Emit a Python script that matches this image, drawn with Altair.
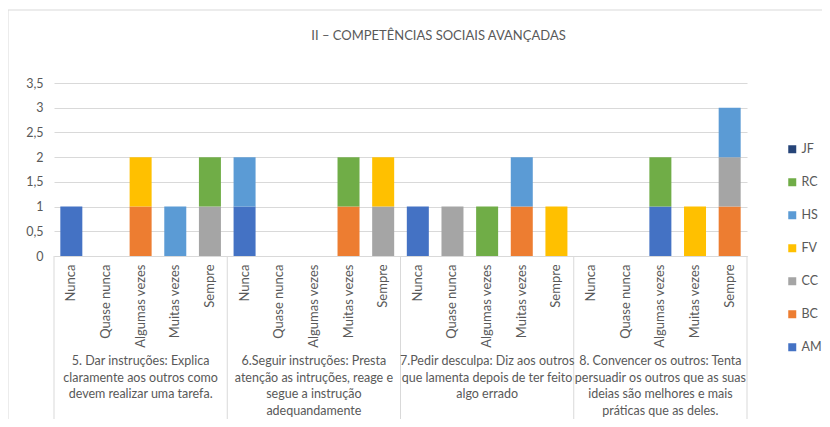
import altair as alt
import pandas as pd

groups = ["5", "6", "7", "8"]
group_labels = [
    "5. Dar instruções: Explica\nclaramente aos outros como\ndevem realizar uma tarefa.",
    "6.Seguir instruções: Presta\natenção as intruções, reage e\nsegue a instrução\nadequandamente",
    "7.Pedir desculpa: Diz aos outros\nque lamenta depois de ter feito\nalgo errado",
    "8. Convencer os outros: Tenta\npersuadir os outros que as suas\nideias são melhores e mais\npráticas que as deles.",
]
categories = ["Nunca", "Quase nunca", "Algumas vezes", "Muitas vezes", "Sempre"]
series = ["AM", "BC", "CC", "FV", "HS", "RC", "JF"]
colors = ["#4472C4", "#ED7D31", "#A5A5A5", "#FFC000", "#5B9BD5", "#70AD47", "#264478"]

# values per series, 4 groups x 5 categories
AM = [1, 0, 0, 0, 0,  1, 0, 0, 0, 0,  1, 0, 0, 0, 0,  0, 0, 1, 0, 0]
BC = [0, 0, 1, 0, 0,  0, 0, 0, 1, 0,  0, 0, 0, 1, 0,  0, 0, 0, 0, 1]
CC = [0, 0, 0, 0, 1,  0, 0, 0, 0, 1,  0, 1, 0, 0, 0,  0, 0, 0, 0, 1]
FV = [0, 0, 1, 0, 0,  0, 0, 0, 0, 1,  0, 0, 0, 0, 1,  0, 0, 0, 1, 0]
HS = [0, 0, 0, 1, 0,  1, 0, 0, 0, 0,  0, 0, 0, 1, 0,  0, 0, 0, 0, 1]
RC = [0, 0, 0, 0, 1,  0, 0, 0, 1, 0,  0, 0, 1, 0, 0,  0, 0, 1, 0, 0]
JF = [0, 0, 0, 0, 0,  0, 0, 0, 0, 0,  0, 0, 0, 0, 0,  0, 0, 0, 0, 0]
values = {"AM": AM, "BC": BC, "CC": CC, "FV": FV, "HS": HS, "RC": RC, "JF": JF}

title = "II – COMPETÊNCIAS SOCIAIS AVANÇADAS"
FONT = "Lato"
TXT = "#595959"
GRID = "#D9D9D9"

keys = [f"{g}|{c}" for g in groups for c in categories]
rows = []
for si, s in enumerate(series):
    for i, k in enumerate(keys):
        v = values[s][i]
        if v:
            rows.append({"key": k, "serie": s, "ord": si, "v": v})
df = pd.DataFrame(rows)

bounds = pd.DataFrame({"b": [0, 5, 10, 15, 20]})
centers = pd.DataFrame({"c": [i * 5 + 2.5 for i in range(len(groups))], "t": group_labels})

W, H = 693, 173

bars = alt.Chart(df).mark_bar(width=alt.RelativeBandSize(0.635)).encode(
    x=alt.X("key:N", sort=keys,
            scale=alt.Scale(domain=keys, paddingInner=0, paddingOuter=0),
            axis=alt.Axis(title=None, labelAngle=-90, labelExpr="split(datum.label, '|')[1]",
                          labelFont=FONT, labelFontSize=13, labelColor=TXT, labelPadding=8,
                          ticks=False, domainColor=GRID, grid=False, labelBaseline="middle")),
    y=alt.Y("v:Q", stack="zero",
            scale=alt.Scale(domain=[0, 3.5], nice=False),
            axis=alt.Axis(title=None, values=[0, 0.5, 1, 1.5, 2, 2.5, 3, 3.5],
                          labelExpr="replace(format(datum.value, '~g'), '.', ',')",
                          labelFont=FONT, labelFontSize=12.5, labelColor=TXT, labelPadding=11,
                          ticks=False, domain=False, gridColor=GRID, gridWidth=1)),
    color=alt.Color("serie:N",
                    scale=alt.Scale(domain=series[::-1], range=colors[::-1]),
                    legend=alt.Legend(title=None, orient="none", legendX=732, legendY=60,
                                      symbolType="square", symbolSize=64, symbolStrokeWidth=0,
                                      labelFont=FONT, labelFontSize=12.5, labelColor=TXT,
                                      rowPadding=20, labelOffset=3)),
    order=alt.Order("ord:Q", sort="ascending"),
)

seps = alt.Chart(bounds).mark_rule(color=GRID, strokeWidth=1).encode(
    x=alt.X("b:Q", scale=alt.Scale(domain=[0, 20], nice=False, zero=False), axis=None),
    y=alt.value(H),
    y2=alt.value(337),
)

labels = alt.Chart(centers).mark_text(
    font=FONT, fontSize=12.5, color=TXT, baseline="top", align="center",
    lineBreak="\n", lineHeight=16.5,
).encode(
    x=alt.X("c:Q", scale=alt.Scale(domain=[0, 20], nice=False, zero=False), axis=None),
    y=alt.value(272),
    text="t:N",
)

frame = alt.Chart(pd.DataFrame({"f": [0]})).mark_rect(fill=None, stroke=GRID, strokeWidth=1).encode(
    x=alt.value(-46), x2=alt.value(900), y=alt.value(-73), y2=alt.value(500)
)

chart = alt.layer(frame, bars, seps, labels).resolve_scale(x="independent").properties(
    width=W, height=H,
    title=alt.TitleParams(title, font=FONT, fontSize=13, fontWeight="normal", color=TXT,
                          anchor="middle", offset=-33, dx=38),
    autosize=alt.AutoSizeParams(type="none"),
    padding={"left": 46, "top": 75, "right": 75, "bottom": 163},
).configure_view(stroke=None)

chart.save("out.html", embed_options={"renderer": "svg", "actions": False})
